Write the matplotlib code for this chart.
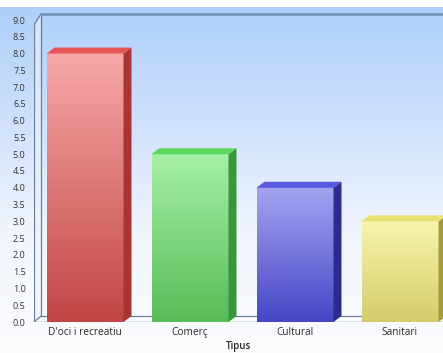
import numpy as np
import matplotlib
matplotlib.use("Agg")
import matplotlib.pyplot as plt
from matplotlib.colors import LinearSegmentedColormap
from matplotlib.patches import Polygon

plt.rcParams['font.family'] = ['Open Sans', 'DejaVu Sans']

#%% data
categories = ["D'oci i recreatiu", "Comerç", "Cultural", "Sanitari"]
values = [8.0, 5.0, 4.0, 3.0]
y_ticks = np.arange(0, 9.01, 0.5)

# front-top, front-bottom, side, top-face
bar_colors = [
    ("#f7a8a8", "#c24646", "#a83434", "#e65656"),
    ("#a6f0a6", "#58bc58", "#3a963a", "#5cd85c"),
    ("#a4a4f2", "#4646c6", "#2c2c8e", "#5858de"),
    ("#f8f5ac", "#d4cc6c", "#a49c3c", "#e8e272"),
]

#%% figure
W, H = 443, 353
fig = plt.figure(figsize=(W / 100, H / 100), dpi=100)
grad = np.linspace(0, 1, 256).reshape(-1, 1)

# full background gradient (white strip on top)
bg = LinearSegmentedColormap.from_list("bg", ["#fbfcfe", "#f2f6fd", "#cfe1fc", "#aecffa"])
bgax = fig.add_axes([0, 0, 1, (H - 7) / H], zorder=-1)
bgax.imshow(grad, extent=[0, 1, 0, 1], origin="lower", cmap=bg, aspect="auto")
bgax.axis("off")

px_left, px_right, px_top, px_bottom = 34, 443, 7, 322
ax = fig.add_axes([px_left / W, (H - px_bottom) / H,
                   (px_right - px_left) / W, (px_bottom - px_top) / H])
ax.patch.set_alpha(0)

spacing = 105.0          # px per category
unit = (322 - 20) / 9.0  # px per value unit
xmin = (px_left - 85) / spacing
xmax = (px_right - 85) / spacing
ymax = (px_bottom - px_top) / unit
ddx = 8 / spacing        # depth offset
ddy = 6 / unit

# walls / floor
wall_x = xmin + 7 / spacing
top_y = (px_bottom - 14) / unit
ax.add_patch(Polygon([(xmin, 0), (wall_x, ddy), (wall_x, top_y),
                      (xmin, top_y - 11 / unit)], closed=True,
                     facecolor="#eef3fa", edgecolor="none", alpha=0.6, zorder=1))
ax.add_patch(Polygon([(xmin, 0), (xmax, 0), (xmax, ddy), (wall_x, ddy)],
                     closed=True, facecolor="#fafbfd", edgecolor="none", zorder=1))
lc = "#6b7f99"
ax.plot([xmin, xmin], [0, top_y - 11 / unit], color=lc, lw=0.9, zorder=2)
ax.plot([xmin, wall_x], [top_y - 11 / unit, top_y], color=lc, lw=0.9, zorder=2)
ax.plot([wall_x, wall_x], [ddy, top_y], color=lc, lw=0.9, zorder=2)
ax.plot([xmin, wall_x], [0, ddy], color=lc, lw=0.9, zorder=2)
ax.plot([wall_x, xmax], [ddy, ddy], color=lc, lw=0.9, zorder=2)
ax.plot([xmin, xmax], [0, 0], color=lc, lw=1.0, zorder=2)
ax.plot([wall_x, xmax], [top_y, top_y], color="#7896b8", lw=2.0, zorder=2)

# bars
bw = 77 / spacing
for i, (v, (c_top, c_bot, c_side, c_cap)) in enumerate(zip(values, bar_colors)):
    x0, x1 = i - bw / 2, i + bw / 2
    cm = LinearSegmentedColormap.from_list(f"b{i}", [c_bot, c_top])
    ax.imshow(grad, extent=[x0, x1, 0, v], origin="lower", cmap=cm,
              aspect="auto", zorder=3)
    ax.add_patch(Polygon([(x1, 0), (x1 + ddx, ddy), (x1 + ddx, v + ddy), (x1, v)],
                         closed=True, facecolor=c_side, edgecolor="none", zorder=3))
    ax.add_patch(Polygon([(x0, v), (x1, v), (x1 + ddx, v + ddy), (x0 + ddx, v + ddy)],
                         closed=True, facecolor=c_cap, edgecolor="none", zorder=3))

ax.set_xlim(xmin, xmax)
ax.set_ylim(0, ymax)
for s in ax.spines.values():
    s.set_visible(False)

ax.set_yticks(y_ticks)
ax.set_yticklabels([f"{t:.1f}" for t in y_ticks])
ax.set_xticks(range(len(categories)))
ax.set_xticklabels(categories)
ax.tick_params(axis="y", length=0, pad=6, labelsize=6.5, labelcolor="#333333")
ax.tick_params(axis="x", length=0, pad=3.5, labelsize=7.3, labelcolor="#2a2a2a")
for lab in ax.get_xticklabels() + ax.get_yticklabels():
    lab.set_fontweight("medium")
ax.set_xlabel("Tipus", fontsize=7, fontweight="semibold", color="#2a2a2a", labelpad=2.5)

fig.savefig("out.png", dpi=100)
